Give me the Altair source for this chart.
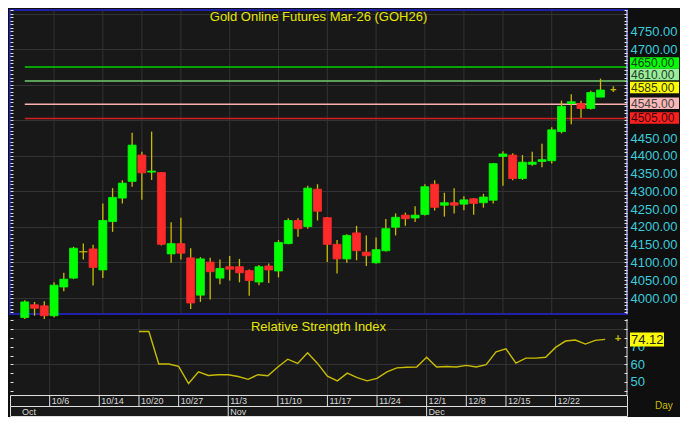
import altair as alt
import pandas as pd

# ---------------- data ----------------
opens  = [3945, 3981, 3978, 3950, 4031, 4056, 4130, 4138, 4079, 4215,
          4281, 4328, 4402, 4354, 4353, 4124, 4153, 4113, 4008, 4101,
          4056, 4088, 4088, 4077, 4045, 4090, 4076, 4153, 4218, 4201,
          4306, 4226, 4151, 4110, 4183, 4129, 4099, 4133, 4199, 4233,
          4225, 4235, 4320, 4261, 4268, 4264, 4279, 4268, 4275, 4398,
          4402, 4336, 4376, 4384, 4386, 4468, 4547, 4547, 4533, 4565]
highs  = [3994, 3989, 3991, 4044, 4071, 4144, 4153, 4150, 4266, 4309,
          4331, 4465, 4411, 4468, 4354, 4213, 4226, 4140, 4115, 4113,
          4108, 4118, 4110, 4080, 4093, 4097, 4163, 4224, 4224, 4316,
          4320, 4228, 4163, 4179, 4203, 4176, 4170, 4222, 4238, 4240,
          4258, 4320, 4331, 4296, 4309, 4286, 4281, 4293, 4380, 4413,
          4407, 4402, 4411, 4434, 4480, 4555, 4573, 4555, 4583, 4617]
lows   = [3935, 3950, 3940, 3945, 4019, 4053, 4108, 4035, 4056, 4186,
          4266, 4313, 4276, 4332, 4148, 4099, 4108, 3969, 3989, 3996,
          4039, 4049, 4044, 4006, 4036, 4042, 4058, 4151, 4172, 4195,
          4218, 4101, 4069, 4099, 4106, 4090, 4097, 4131, 4176, 4203,
          4214, 4232, 4246, 4229, 4238, 4247, 4234, 4254, 4266, 4316,
          4331, 4332, 4372, 4368, 4378, 4463, 4489, 4507, 4530, 4565]
closes = [3989, 3971, 3950, 4036, 4053, 4140, 4130, 4086, 4218, 4283,
          4323, 4430, 4352, 4357, 4151, 4153, 4126, 3986, 4110, 4074,
          4083, 4081, 4071, 4049, 4088, 4079, 4156, 4218, 4195, 4309,
          4244, 4151, 4110, 4176, 4133, 4119, 4136, 4195, 4227, 4223,
          4233, 4313, 4255, 4268, 4261, 4276, 4266, 4284, 4378, 4405,
          4336, 4382, 4382, 4389, 4473, 4539, 4552, 4533, 4578, 4585]

rsi_start = 12
rsi_values = [78.6, 78.6, 60.2, 60.2, 58.8, 49.1, 55.7, 53.7, 54.1, 54.1,
              53.1, 51.5, 54.1, 53.5, 58.5, 62.9, 60.5, 66.6, 60.5, 53.3,
              50.6, 55.0, 52.4, 50.6, 52.0, 55.7, 58.0, 58.3, 58.5, 64.0,
              58.5, 58.8, 58.5, 59.4, 58.5, 59.8, 67.1, 68.8, 60.7, 63.5,
              63.5, 64.0, 69.6, 73.2, 73.8, 71.5, 73.6, 74.12]

date_pos = [3, 8, 12, 16, 21, 26, 31, 36, 41, 45, 49, 54]
date_labels = ["10/6", "10/14", "10/20", "10/27", "11/3", "11/10",
               "11/17", "11/24", "12/1", "12/8", "12/15", "12/22"]
month_pos = [0, 21, 41]
month_labels = ["Oct", "Nov", "Dec"]

level_values = [4650, 4610, 4545, 4505]
level_colors = ["#00d000", "#6fcf6f", "#ffb0b0", "#d02020"]

label_values = [4650, 4610, 4585, 4545, 4505]
label_fills = ["#00ff00", "#98ee98", "#ffff00", "#ffb8b8", "#ff2020"]
label_text_colors = ["#1c3a1c", "#2a3a2a", "#333300", "#444444", "#3a0a0a"]
label_nudge_px = [-4.0, -6.5, -2.5, -1.0, -0.5]

title_text = "Gold Online Futures Mar-26 (GOH26)"
rsi_title = "Relative Strength Index"
period_text = "Day"

# ---------------- style ----------------
FONT = "Liberation Sans"
W = 617
H_PRICE = 304
H_RSI = 76
H_DATE = 11
H_MONTH = 10
BG = "#0f0f0f"
PLOT_BG = "#181818"
GRID = "#333333"
GREEN = "#00ff00"
RED = "#ff2a2a"
WICK = "#c8bc00"
CYAN = "#3ccbdb"
YELLOW = "#e6e600"
WHITE = "#e0e0e0"
BLUE = "#2020a8"

P_DOM = [3955, 4810]
R_DOM = [42.6, 85.7]
X_DOM = [-1, 61.2]

x_scale = alt.Scale(domain=X_DOM, nice=False, zero=False)
p_scale = alt.Scale(domain=P_DOM, nice=False, zero=False)
r_scale = alt.Scale(domain=R_DOM, nice=False, zero=False)

p_ticks = list(range(3960, 4811, 10))
r_ticks = list(range(45, 86, 5))

P_LABEL_TEST = "datum.value % 50 == 0 && datum.value < 4800 && (datum.value < 4500 || datum.value > 4650)"
R_LABEL_TEST = "datum.value >= 50 && datum.value <= 70 && datum.value % 10 == 0"

left_p = alt.Axis(orient="left", values=p_ticks, labels=False, domain=False, grid=False,
                  tickSize=3, tickColor=WHITE, offset=-3, title=None, minExtent=0)
right_p = alt.Axis(orient="right", values=p_ticks, domain=False, offset=-3, tickSize=3,
                   tickColor=WHITE, minExtent=0,
                   labelExpr="(" + P_LABEL_TEST + ") ? format(datum.value, '.2f') : ''",
                   labelFontSize={"condition": {"test": P_LABEL_TEST, "value": 13}, "value": 0},
                   labelColor=CYAN, labelFont=FONT, labelPadding=3,
                   labelOverlap=False, grid=True, gridColor=GRID,
                   gridOpacity={"condition": {"test": "datum.value % 100 == 0", "value": 1}, "value": 0},
                   title=None)
left_r = alt.Axis(orient="left", values=r_ticks, labels=False, domain=False, grid=False,
                  tickSize=3, tickColor=WHITE, offset=-3, title=None, minExtent=0)
right_r = alt.Axis(orient="right", values=r_ticks, domain=False, offset=-3, tickSize=3,
                   tickColor=WHITE, minExtent=0,
                   labelExpr="(" + R_LABEL_TEST + ") ? format(datum.value, 'd') : ''",
                   labelFontSize={"condition": {"test": R_LABEL_TEST, "value": 13}, "value": 0},
                   labelColor=CYAN, labelFont=FONT, labelPadding=3,
                   labelOverlap=False, grid=True, gridColor=GRID,
                   gridOpacity={"condition": {"test": "datum.value % 20 == 0", "value": 1}, "value": 0},
                   title=None)

# ---------------- tables ----------------
n = len(closes)
direction = ["up" if c > o else ("down" if c < o else "flat") for o, c in zip(opens, closes)]
candles = pd.DataFrame({"i": list(range(n)), "open": opens, "high": highs,
                        "low": lows, "close": closes, "dir": direction})
dir_scale = alt.Scale(domain=["up", "down", "flat"], range=[GREEN, RED, WICK])

dates = pd.DataFrame({"i": date_pos, "label": date_labels})
months = pd.DataFrame({"i": month_pos, "label": month_labels})

levels = pd.DataFrame({"level": level_values, "color": level_colors,
                       "start": [0] * len(level_values)})

ppu = H_PRICE / (P_DOM[1] - P_DOM[0])
labels_df = pd.DataFrame({
    "level": label_values,
    "disp": [v - nz / ppu for v, nz in zip(label_values, label_nudge_px)],
    "text": [f"{v:.2f}" for v in label_values],
    "fill": label_fills,
    "tcolor": label_text_colors,
})

last_df = pd.DataFrame({"i": [n - 1 + 1.3], "close": [closes[-1]]})

rsi_df = pd.DataFrame({"i": list(range(rsi_start, rsi_start + len(rsi_values))),
                       "rsi": rsi_values})
rsi_last = pd.DataFrame({"i": [n - 1 + 1.3], "v": [rsi_values[-1]],
                         "t": [f"{rsi_values[-1]:.2f}"]})

one = pd.DataFrame({"t": [title_text]})


def vgrid():
    return alt.Chart(dates).mark_rule(color=GRID, strokeWidth=1).encode(
        x=alt.X("i:Q", scale=x_scale, axis=None))


# ---------------- price panel ----------------
level_rules = alt.Chart(levels).mark_rule(strokeWidth=1.5).encode(
    x=alt.X("start:Q", scale=x_scale, axis=None), x2=alt.value(W),
    y=alt.Y("level:Q", scale=p_scale, axis=right_p),
    color=alt.Color("color:N", scale=None),
)
wicks = alt.Chart(candles).mark_rule(color=WICK, strokeWidth=1.3).encode(
    x=alt.X("i:Q", scale=x_scale, axis=None),
    y=alt.Y("low:Q", scale=p_scale, axis=left_p),
    y2="high:Q",
)
bodies = alt.Chart(candles).mark_bar(width=8, strokeWidth=0.8).encode(
    x=alt.X("i:Q", scale=x_scale, axis=None),
    y=alt.Y("open:Q", scale=p_scale, axis=None),
    y2="close:Q",
    color=alt.Color("dir:N", scale=dir_scale, legend=None),
    stroke=alt.Stroke("dir:N", scale=dir_scale, legend=None),
)
p_edge = alt.Chart(one).mark_rule(color=WHITE).encode(
    x=alt.value(W), y=alt.value(0), y2=alt.value(H_PRICE))
p_title = alt.Chart(one).mark_text(font=FONT, fontSize=13, color=YELLOW,
                                   baseline="top", align="center").encode(
    x=alt.value(W / 2), y=alt.value(1), text="t:N")
boxes = alt.Chart(labels_df).mark_rect(yOffset=-5.75, y2Offset=5.75).encode(
    x=alt.value(W + 3), x2=alt.value(W + 52),
    y=alt.Y("disp:Q", scale=p_scale, axis=None), y2="disp:Q",
    fill=alt.Fill("fill:N", scale=None),
)
box_text = alt.Chart(labels_df).mark_text(font=FONT, fontSize=12, align="left",
                                          baseline="middle", dy=0.5).encode(
    x=alt.value(W + 4),
    y=alt.Y("disp:Q", scale=p_scale, axis=None),
    text="text:N",
    color=alt.Color("tcolor:N", scale=None),
)
last_mark = alt.Chart(last_df).mark_text(text="+", font=FONT, fontSize=11,
                                         fontWeight="bold", color=WICK).encode(
    x=alt.X("i:Q", scale=x_scale, axis=None),
    y=alt.Y("close:Q", scale=p_scale, axis=None),
)

price = alt.layer(vgrid(), level_rules, wicks, bodies, p_edge, p_title, boxes, box_text,
                  last_mark).resolve_axis(y="independent").properties(
    width=W, height=H_PRICE,
    view=alt.ViewBackground(fill=PLOT_BG, stroke=BLUE, strokeWidth=2))

# ---------------- RSI panel ----------------
rsi_line = alt.Chart(rsi_df).mark_line(color=WICK, strokeWidth=1.4).encode(
    x=alt.X("i:Q", scale=x_scale, axis=None),
    y=alt.Y("rsi:Q", scale=r_scale, axis=left_r),
)
rsi_box = alt.Chart(rsi_last).mark_rect(yOffset=-7, y2Offset=7, fill="#ffff00").encode(
    x=alt.value(W + 3), x2=alt.value(W + 37),
    y=alt.Y("v:Q", scale=r_scale, axis=right_r), y2="v:Q",
)
rsi_box_text = alt.Chart(rsi_last).mark_text(font=FONT, fontSize=13, align="left",
                                             baseline="middle", color="#222222", dy=0.5).encode(
    x=alt.value(W + 4),
    y=alt.Y("v:Q", scale=r_scale, axis=None),
    text="t:N",
)
rsi_mark = alt.Chart(rsi_last).mark_text(text="+", font=FONT, fontSize=11,
                                         fontWeight="bold", color=WICK).encode(
    x=alt.X("i:Q", scale=x_scale, axis=None),
    y=alt.Y("v:Q", scale=r_scale, axis=None),
)
r_edge = alt.Chart(one).mark_rule(color=WHITE).encode(
    x=alt.value(W), y=alt.value(0), y2=alt.value(H_RSI))
r_title = alt.Chart(pd.DataFrame({"t": [rsi_title]})).mark_text(
    font=FONT, fontSize=13, color=YELLOW, baseline="top", align="center").encode(
    x=alt.value(W / 2), y=alt.value(2), text="t:N")

rsi = alt.layer(vgrid(), rsi_line, rsi_box, rsi_box_text, rsi_mark, r_edge, r_title
                ).resolve_axis(y="independent").properties(
    width=W, height=H_RSI, view=alt.ViewBackground(fill=PLOT_BG, strokeWidth=0))

# ---------------- date row ----------------
date_sep = alt.Chart(dates).mark_rule(color=WHITE).encode(
    x=alt.X("i:Q", scale=x_scale, axis=None), y=alt.value(0), y2=alt.value(H_DATE))
date_text = alt.Chart(dates).mark_text(font=FONT, fontSize=9, color="#d8d8d8",
                                       align="left", baseline="middle", dx=2).encode(
    x=alt.X("i:Q", scale=x_scale, axis=None), y=alt.value(H_DATE / 2 + 0.5),
    text="label:N")
date_row = alt.layer(date_sep, date_text).properties(
    width=W, height=H_DATE,
    view=alt.ViewBackground(fill=PLOT_BG, stroke=WHITE, strokeWidth=1))

# ---------------- month row ----------------
month_sep = alt.Chart(months).transform_filter("datum.i > 0").mark_rule(color=WHITE).encode(
    x=alt.X("i:Q", scale=x_scale, axis=None), y=alt.value(0), y2=alt.value(H_MONTH))
month_text = alt.Chart(months).mark_text(font=FONT, fontSize=9, color="#d8d8d8",
                                         align="left", baseline="middle", dx=2).encode(
    x=alt.X("i:Q", scale=x_scale, axis=None), y=alt.value(H_MONTH / 2 + 0.5),
    text="label:N")
day_text = alt.Chart(pd.DataFrame({"t": [period_text]})).mark_text(
    font=FONT, fontSize=10, color=WICK, align="left", baseline="middle").encode(
    x=alt.value(W + 28), y=alt.value(0), text="t:N")
month_row = alt.layer(month_sep, month_text, day_text).properties(
    width=W, height=H_MONTH,
    view=alt.ViewBackground(fill=PLOT_BG, stroke=WHITE, strokeWidth=1))

lower = alt.vconcat(rsi, date_row, month_row, spacing=0, bounds="flush")
chart = alt.vconcat(price, lower, spacing=5, bounds="flush").properties(padding=0).configure(
    background=BG
)

chart.save("out.html", embed_options={"renderer": "svg", "actions": False})
